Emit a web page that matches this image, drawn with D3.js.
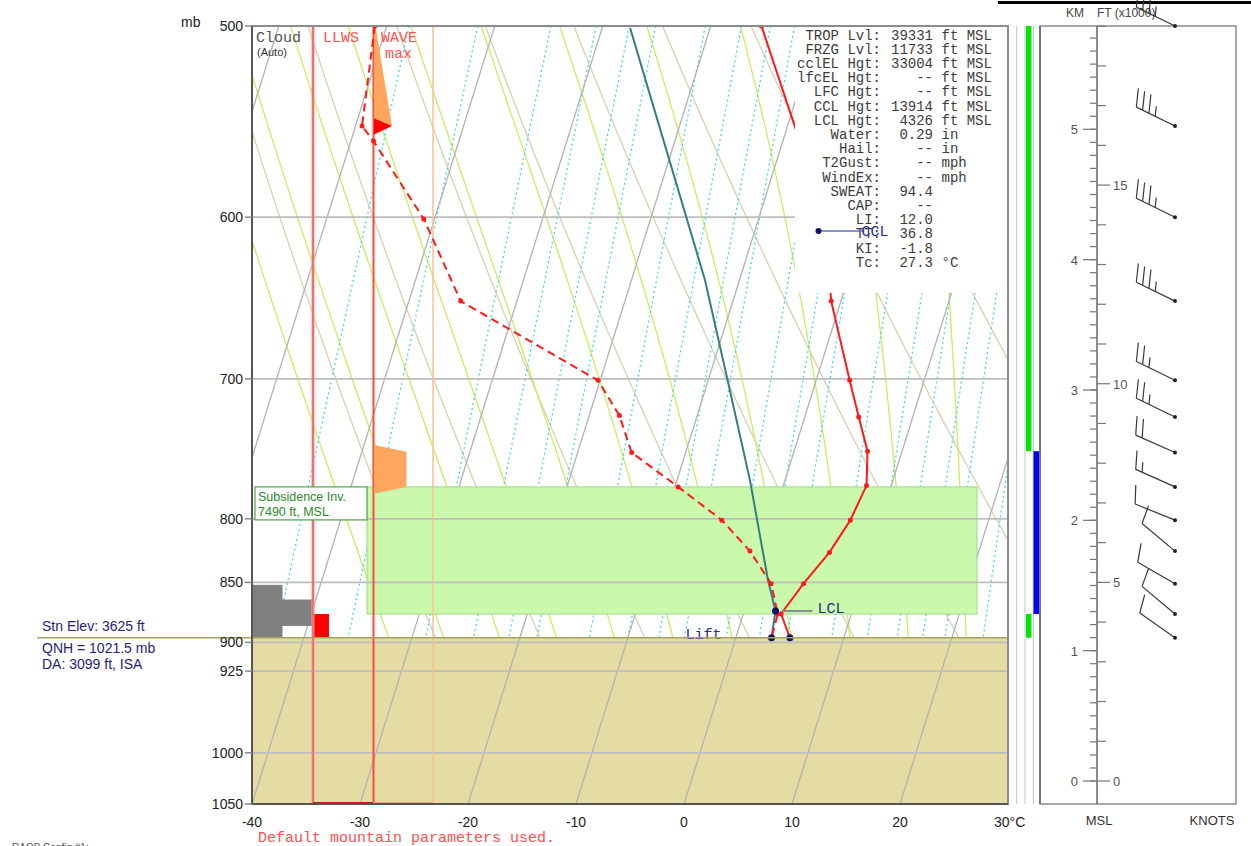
<!DOCTYPE html>
<html lang="en">
<head>
<meta charset="utf-8">
<style>
  body { margin: 0; background: #fff; }
  svg { display: block; }
  svg text { font-family: Arial, "Liberation Sans", sans-serif; }
  svg .mono, svg .mono text { font-family: "Courier New", "Liberation Mono", monospace; }
</style>
</head>
<body>
<script src="https://cdnjs.cloudflare.com/ajax/libs/d3/7.8.5/d3.min.js"></script>
<script>
var pressureTicks = [500, 600, 700, 800, 850, 900, 925, 1000, 1050];
var isobarLevels = [600, 700, 800, 850, 900, 925, 1000];
var tempTicks = [-40, -30, -20, -10, 0, 10, 20];
var isothermTemps = [-100, -90, -80, -70, -60, -50, -40, -30, -20, -10, 0, 10, 20, 30];
var dryThetas = [-20, -10, 0, 10, 20, 30, 40, 50, 60, 70];
var moistThetaW = [-25, -20, -15, -10, -5, 0, 5, 10, 15, 20, 25, 30, 35, 40];
var mixRatios = [0.1, 0.2, 0.4, 0.6, 0.8, 1, 1.5, 2, 2.5, 3, 4, 5, 6, 8, 10, 12, 14, 16, 20, 24, 28];

var stnP = 896;

var tempP = [500, 600, 650, 701, 726, 750, 775, 801, 826, 851, 876, 896];
var tempT = [-15.3, -3.9, -0.9, 3.1, 5.0, 6.8, 7.7, 7.2, 6.2, 4.7, 3.5, 5.0];

var dewP = [500, 550, 558, 601, 650, 701, 725, 751, 776, 801, 825, 851, 876, 896];
var dewT = [-51.1, -49.4, -47.9, -41.0, -35.2, -20.2, -17.2, -15.0, -9.7, -4.7, -1.2, 1.7, 3.2, 3.3];

var parcelP = [873.5, 848, 771, 701, 637, 501];
var parcelT = [2.9, 1.3, -3.25, -8.2, -13.2, -27.4];
var liftP = [896, 873.5];
var liftT = [3.3, 2.9];
var lcl = { p: 873.5, t: 2.9 };
var ccl = { p: 608, t: -4.1 };

var windP = [500, 550, 600, 650, 701, 726, 751, 776, 801, 825, 851, 876, 896];
var windDir = [296, 296, 296, 296, 296, 296, 294, 294, 292, 310, 300, 310, 305];
var windSpd = [35, 35, 35, 35, 25, 25, 20, 15, 10, 10, 10, 10, 10];

var cloudTop = [852, 864];
var cloudBot = [896, 886];
var cloudCover = [0.5, 1.0];

var llwsP = [876, 896];
var llwsAmt = 0.25;

var wave1P = [501, 501, 550, 546];
var wave1A = [0, 0.03, 0.3, 0];
var waveArrowP = [546, 550, 554.5];
var waveArrowA = [0, 0.3, 0];
var wave2P = [745.6, 750.4, 776, 781];
var wave2A = [0, 0.54, 0.54, 0];

var subsTop = 776, subsBot = 876;

var stabTop = [500, 750, 876];
var stabBot = [750, 876, 896];
var stabKind = ["stable", "inversion", "stable"];

var kmTicks = [0, 1, 2, 3, 4, 5];
var ftTicks = [0, 5, 10, 15];

var statLabels = ["TROP Lvl:", "FRZG Lvl:", "cclEL Hgt:", "lfcEL Hgt:", "LFC Hgt:", "CCL Hgt:", "LCL Hgt:",
  "Water:", "Hail:", "T2Gust:", "WindEx:", "SWEAT:", "CAP:", "LI:", "TT:", "KI:", "Tc:"];
var statValues = ["39331", "11733", "33004", "--", "--", "13914", "4326",
  "0.29", "--", "--", "--", "94.4", "--", "12.0", "36.8", "-1.8", "27.3"];
var statUnits = ["ft MSL", "ft MSL", "ft MSL", "ft MSL", "ft MSL", "ft MSL", "ft MSL",
  "in", "in", "mph", "mph", "", "", "", "", "", "\u00b0C"];

// ---- layout ----
var width = 1251, height = 846;
var plotL = 252, plotR = 1008, plotT = 26, plotB = 804;

var svg = d3.select("body").append("svg")
  .attr("width", width)
  .attr("height", height);

var yScale = d3.scaleLog().domain([500, 1050]).range([plotT, plotB]);
var xScale = d3.scaleLinear().domain([-40, 30]).range([plotL, plotR]);
var skew = 0.312;
function sx(t, p) { return xScale(t) + skew * (plotB - yScale(p)); }

var line = d3.line();
function skewPath(ps, ts) {
  return line(ps.map(function(p, i) { return [sx(ts[i], p), yScale(p)]; }));
}

var defs = svg.append("defs");
defs.append("clipPath").attr("id", "plotClip").append("rect")
  .attr("x", plotL).attr("y", plotT).attr("width", plotR - plotL).attr("height", plotB - plotT);
defs.append("clipPath").attr("id", "airClip").append("rect")
  .attr("x", plotL).attr("y", plotT).attr("width", plotR - plotL).attr("height", yScale(stnP) - plotT);

var pSamples = d3.range(500, 1051, 5);

// saturation vapour pressure, T in C
function es(t) { return 6.112 * Math.exp(17.67 * t / (t + 243.5)); }

function moistLapse(p, T) {
  var Rd = 287.04, Cp = 1005.7, Lv = 2.501e6, eps = 0.622;
  var e = es(T - 273.15);
  var rs = eps * e / (p - e);
  var num = (Rd * T + Lv * rs) / p;
  var den = Cp + (Lv * Lv * rs * eps) / (Rd * T * T);
  return num / den;
}
function moistStep(p, T, dp) {
  var k1 = moistLapse(p, T);
  var k2 = moistLapse(p + dp / 2, T + k1 * dp / 2);
  return T + k2 * dp;
}
function moistPoints(tw) {
  var up = [], down = [];
  var T = tw + 273.15, p = 1000;
  up.push([p, T]);
  while (p > 500) { T = moistStep(p, T, -5); p -= 5; up.push([p, T]); }
  T = tw + 273.15; p = 1000;
  while (p < 1050) { T = moistStep(p, T, 5); p += 5; down.push([p, T]); }
  return down.reverse().concat(up);
}

var plot = svg.append("g").attr("clip-path", "url(#plotClip)");
var air = plot.append("g").attr("clip-path", "url(#airClip)");

// dry adiabats
air.selectAll(".dry").data(dryThetas).enter().append("path")
  .attr("fill", "none").attr("stroke", "#d9d0ae").attr("stroke-width", 1.3)
  .attr("d", function(th) {
    return line(pSamples.map(function(p) {
      var t = (th + 273.15) * Math.pow(p / 1000, 0.2857) - 273.15;
      return [sx(t, p), yScale(p)];
    }));
  });

// moist adiabats
air.selectAll(".moist").data(moistThetaW).enter().append("path")
  .attr("fill", "none").attr("stroke", "#c6ee5e").attr("stroke-width", 1.3)
  .attr("d", function(tw) {
    return line(moistPoints(tw).map(function(d) { return [sx(d[1] - 273.15, d[0]), yScale(d[0])]; }));
  });

// mixing ratio lines
air.selectAll(".mix").data(mixRatios).enter().append("path")
  .attr("fill", "none").attr("stroke", "#3fd9e0").attr("stroke-width", 1.3)
  .attr("stroke-dasharray", "2,3")
  .attr("d", function(w) {
    return line(pSamples.map(function(p) {
      var e = w * p / (622 + w);
      var l = Math.log(e / 6.112);
      var td = 243.5 * l / (17.67 - l);
      return [sx(td, p), yScale(p)];
    }));
  });

// terrain below the station
plot.append("rect")
  .attr("x", plotL).attr("y", yScale(stnP))
  .attr("width", plotR - plotL).attr("height", plotB - yScale(stnP))
  .attr("fill", "#e4dca3");

// isotherms
plot.selectAll(".iso").data(isothermTemps).enter().append("line")
  .attr("x1", function(t) { return sx(t, 1050); }).attr("y1", yScale(1050))
  .attr("x2", function(t) { return sx(t, 500); }).attr("y2", yScale(500))
  .attr("stroke", "#b2b2b2").attr("stroke-width", 1.3);

// cloud column
var cloudX = d3.scaleLinear().domain([0, 1]).range([plotL, 313]);
plot.selectAll(".cloud").data(cloudTop).enter().append("rect")
  .attr("x", plotL)
  .attr("y", function(p) { return yScale(p); })
  .attr("width", function(p, i) { return cloudX(cloudCover[i]) - plotL; })
  .attr("height", function(p, i) { return yScale(cloudBot[i]) - yScale(p); })
  .attr("fill", "#808080");

// LLWS bar
var llwsX = d3.scaleLinear().domain([0, 1]).range([314, 374]);
plot.append("rect")
  .attr("x", llwsX(0)).attr("y", yScale(llwsP[0]))
  .attr("width", llwsX(llwsAmt) - llwsX(0))
  .attr("height", yScale(llwsP[1]) - yScale(llwsP[0]))
  .attr("fill", "#ff0000");

// subsidence inversion band
plot.append("rect")
  .attr("x", 367).attr("y", yScale(subsTop))
  .attr("width", 977 - 367).attr("height", yScale(subsBot) - yScale(subsTop))
  .attr("fill", "#cbf9ab").attr("stroke", "#9fd88e").attr("stroke-width", 1);

// isobars
plot.selectAll(".isobar").data(isobarLevels).enter().append("line")
  .attr("x1", plotL).attr("x2", plotR)
  .attr("y1", function(p) { return yScale(p); })
  .attr("y2", function(p) { return yScale(p); })
  .attr("stroke", "#bdbdbd").attr("stroke-width", 1.8);

// column boundaries
plot.append("line").attr("x1", 313).attr("x2", 313).attr("y1", plotT).attr("y2", plotB)
  .attr("stroke", "#f59a9a").attr("stroke-width", 3);
plot.append("line").attr("x1", 313).attr("x2", 313).attr("y1", plotT).attr("y2", plotB)
  .attr("stroke", "#f04a3a").attr("stroke-width", 1);
plot.append("line").attr("x1", 373.5).attr("x2", 373.5).attr("y1", plotT).attr("y2", plotB)
  .attr("stroke", "#ff4a3a").attr("stroke-width", 2);
plot.append("line").attr("x1", 433).attr("x2", 433).attr("y1", plotT).attr("y2", plotB)
  .attr("stroke", "#ffbf90").attr("stroke-width", 1.5);
plot.append("line").attr("x1", 313).attr("x2", 373).attr("y1", plotB - 1).attr("y2", plotB - 1)
  .attr("stroke", "#b02010").attr("stroke-width", 2);
plot.append("line").attr("x1", 373).attr("x2", 433).attr("y1", plotB - 1).attr("y2", plotB - 1)
  .attr("stroke", "#f0a070").attr("stroke-width", 2);

// mountain wave shapes
var waveX = d3.scaleLinear().domain([0, 1]).range([374, 434]);
function wavePoly(ps, as) {
  return line(ps.map(function(p, i) { return [waveX(as[i]), yScale(p)]; })) + "Z";
}
plot.append("path").attr("d", wavePoly(wave1P, wave1A)).attr("fill", "#ffa65e");
plot.append("path").attr("d", wavePoly(waveArrowP, waveArrowA)).attr("fill", "#ff0000");
plot.append("path").attr("d", wavePoly(wave2P, wave2A)).attr("fill", "#ffa65e");

// parcel path
plot.append("path").attr("d", skewPath(parcelP, parcelT))
  .attr("fill", "none").attr("stroke", "#357f80").attr("stroke-width", 2);
plot.append("path").attr("d", skewPath(liftP, liftT))
  .attr("fill", "none").attr("stroke", "#357f80").attr("stroke-width", 2);

// dewpoint
plot.append("path").attr("d", skewPath(dewP, dewT))
  .attr("fill", "none").attr("stroke", "#ff1a1a").attr("stroke-width", 2)
  .attr("stroke-dasharray", "8,5");
plot.selectAll(".dewdot").data(dewP.slice(0, 13)).enter().append("circle")
  .attr("cx", function(p, i) { return sx(dewT[i], p); })
  .attr("cy", function(p) { return yScale(p); })
  .attr("r", 2.5).attr("fill", "#ff1a1a");

// temperature
plot.append("path").attr("d", skewPath(tempP, tempT))
  .attr("fill", "none").attr("stroke", "#ff1a1a").attr("stroke-width", 2);
plot.selectAll(".tdot").data(tempP.slice(0, 11)).enter().append("circle")
  .attr("cx", function(p, i) { return sx(tempT[i], p); })
  .attr("cy", function(p) { return yScale(p); })
  .attr("r", 2.5).attr("fill", "#ff1a1a");

// index box over the upper right of the diagram
plot.append("rect").attr("x", 795).attr("y", plotT + 1).attr("width", plotR - 795).attr("height", 293 - plotT - 1)
  .attr("fill", "#fff");

var stats = svg.append("g").attr("font-size", 14).attr("fill", "#3c3c3c");
statLabels.forEach(function(s, i) {
  var y = 39.5 + i * 14.2;
  stats.append("text").attr("class", "mono").attr("x", 881).attr("y", y).attr("text-anchor", "end").text(s);
  stats.append("text").attr("class", "mono").attr("x", 933).attr("y", y).attr("text-anchor", "end").text(statValues[i]);
  if (statUnits[i]) stats.append("text").attr("class", "mono").attr("x", 941.5).attr("y", y).text(statUnits[i]);
});

// CCL marker
var cclX = sx(ccl.t, ccl.p), cclY = yScale(ccl.p);
svg.append("line").attr("x1", cclX).attr("x2", cclX + 45).attr("y1", cclY).attr("y2", cclY)
  .attr("stroke", "#6a6ac8").attr("stroke-width", 1.5);
svg.append("circle").attr("cx", cclX).attr("cy", cclY).attr("r", 3).attr("fill", "#10106e");
svg.append("text").attr("class", "mono").attr("x", cclX + 43).attr("y", cclY + 5)
  .attr("font-size", 15).attr("fill", "#2a2a9a").text("CCL");

// LCL and lift markers
var lclX = sx(lcl.t, lcl.p), lclY = yScale(lcl.p);
svg.append("line").attr("x1", lclX + 6).attr("x2", lclX + 37).attr("y1", lclY).attr("y2", lclY)
  .attr("stroke", "#8a8a8a").attr("stroke-width", 2);
svg.append("text").attr("class", "mono").attr("x", lclX + 42).attr("y", lclY + 2)
  .attr("font-size", 15).attr("fill", "#2a2a8a").text("LCL");
var liftX = sx(liftT[0], liftP[0]), liftY = yScale(liftP[0]);
svg.append("line").attr("x1", liftX - 38).attr("x2", liftX).attr("y1", liftY).attr("y2", liftY)
  .attr("stroke", "#5050c0").attr("stroke-width", 1.2);
svg.append("text").attr("class", "mono").attr("x", liftX - 86).attr("y", liftY + 1)
  .attr("font-size", 15).attr("fill", "#2a2a8a").text("Lift");
[[lcl.p, lcl.t], [liftP[0], liftT[0]], [stnP, tempT[tempT.length - 1]]].forEach(function(d) {
  svg.append("circle").attr("cx", sx(d[1], d[0])).attr("cy", yScale(d[0])).attr("r", 3.5).attr("fill", "#10106e");
});

// subsidence label
svg.append("rect").attr("x", 255).attr("y", yScale(subsTop)).attr("width", 112).attr("height", 33)
  .attr("fill", "#fff").attr("stroke", "#4ea34e").attr("stroke-width", 1.2);
svg.append("text").attr("x", 258).attr("y", yScale(subsTop) + 14).attr("font-size", 12.5)
  .attr("fill", "#2a8a2a").text("Subsidence Inv.");
svg.append("text").attr("x", 258).attr("y", yScale(subsTop) + 29).attr("font-size", 12.5)
  .attr("fill", "#2a8a2a").text("7490 ft, MSL");

// column headers
svg.append("text").attr("class", "mono").attr("x", 256).attr("y", 42).attr("font-size", 15).attr("fill", "#555").text("Cloud");
svg.append("text").attr("x", 257).attr("y", 56).attr("font-size", 11).attr("fill", "#333").text("(Auto)");
svg.append("text").attr("class", "mono").attr("x", 323).attr("y", 42).attr("font-size", 15).attr("fill", "#ff5050").text("LLWS");
svg.append("text").attr("class", "mono").attr("x", 381).attr("y", 42).attr("font-size", 15).attr("fill", "#ff5050").text("WAVE");
svg.append("text").attr("class", "mono").attr("x", 385).attr("y", 58).attr("font-size", 15).attr("fill", "#ff5050").text("max");

// station line and text
svg.append("line").attr("x1", 37).attr("x2", plotR).attr("y1", yScale(stnP)).attr("y2", yScale(stnP))
  .attr("stroke", "#aaa35c").attr("stroke-width", 1.5);
svg.append("text").attr("x", 42).attr("y", 631).attr("font-size", 14).attr("fill", "#1e1e7e").text("Stn Elev: 3625 ft");
svg.append("text").attr("x", 42).attr("y", 653).attr("font-size", 14).attr("fill", "#1e1e7e").text("QNH = 1021.5 mb");
svg.append("text").attr("x", 42).attr("y", 669).attr("font-size", 14).attr("fill", "#1e1e7e").text("DA: 3099 ft, ISA");

// frame
svg.append("rect").attr("x", plotL).attr("y", plotT).attr("width", plotR - plotL).attr("height", plotB - plotT)
  .attr("fill", "none").attr("stroke", "#8c8c8c").attr("stroke-width", 2);
svg.append("line").attr("x1", plotL).attr("x2", plotL).attr("y1", plotT).attr("y2", plotB)
  .attr("stroke", "#555").attr("stroke-width", 2);
svg.append("line").attr("x1", plotL).attr("x2", plotR).attr("y1", plotB).attr("y2", plotB)
  .attr("stroke", "#555").attr("stroke-width", 2);

// pressure axis
var pAxis = svg.append("g");
pAxis.selectAll("line").data(pressureTicks).enter().append("line")
  .attr("x1", 245).attr("x2", plotL)
  .attr("y1", function(p) { return yScale(p); }).attr("y2", function(p) { return yScale(p); })
  .attr("stroke", "#888").attr("stroke-width", 1.5);
pAxis.selectAll("text").data(pressureTicks).enter().append("text")
  .attr("x", 243).attr("y", function(p) { return yScale(p) + 5; })
  .attr("text-anchor", "end").attr("font-size", 14).attr("fill", "#222")
  .text(function(p) { return p; });
svg.append("text").attr("x", 181).attr("y", 27).attr("font-size", 14).attr("fill", "#222").text("mb");

// temperature axis
var tAxis = svg.append("g");
tAxis.selectAll("text").data(tempTicks).enter().append("text")
  .attr("x", function(t) { return xScale(t); }).attr("y", 827)
  .attr("text-anchor", "middle").attr("font-size", 14).attr("fill", "#222")
  .text(function(t) { return t; });
svg.append("text").attr("x", xScale(30) - 14).attr("y", 827).attr("font-size", 14).attr("fill", "#222").text("30\u00b0C");

svg.append("text").attr("class", "mono").attr("x", 258).attr("y", 842).attr("font-size", 15)
  .attr("fill", "#ff4d4d").text("Default mountain parameters used.");
svg.append("text").attr("x", 12).attr("y", 851).attr("font-size", 10).attr("fill", "#555").text("RAOB Config #1:");

// stability columns
var stabColor = { stable: "#00e600", inversion: "#0000ff" };
var stabX = { stable: 1026, inversion: 1033.5 };
[1016.7, 1025, 1033.3].forEach(function(x) {
  svg.append("line").attr("x1", x).attr("x2", x).attr("y1", plotT).attr("y2", plotB)
    .attr("stroke", "#c4c4c4").attr("stroke-width", 1);
});
svg.selectAll(".stab").data(stabTop).enter().append("rect")
  .attr("x", function(p, i) { return stabX[stabKind[i]]; })
  .attr("y", function(p) { return yScale(p); })
  .attr("width", 5.5)
  .attr("height", function(p, i) { return yScale(stabBot[i]) - yScale(p); })
  .attr("fill", function(p, i) { return stabColor[stabKind[i]]; });

// height panel
var hx = 1097;
svg.append("rect").attr("x", 1040).attr("y", plotT).attr("width", 1236 - 1040).attr("height", plotB - plotT)
  .attr("fill", "none").attr("stroke", "#8c8c8c").attr("stroke-width", 1.5);
svg.append("line").attr("x1", 1040).attr("x2", 1040).attr("y1", plotT).attr("y2", plotB)
  .attr("stroke", "#666").attr("stroke-width", 1.5);
svg.append("line").attr("x1", hx).attr("x2", hx).attr("y1", plotT).attr("y2", plotB)
  .attr("stroke", "#666").attr("stroke-width", 1.5);
svg.append("line").attr("x1", 998).attr("x2", width).attr("y1", 2.5).attr("y2", 2.5)
  .attr("stroke", "#000").attr("stroke-width", 3);

var kmY = d3.scaleLinear().domain([0, 5]).range([781, 129.3]);
var kmMinor = d3.range(0, 58).map(function(i) { return i / 10; }).filter(function(k) { return kmY(k) > plotT + 4; });
svg.selectAll(".kmminor").data(kmMinor).enter().append("line")
  .attr("x1", hx - 7).attr("x2", hx)
  .attr("y1", function(k) { return kmY(k); }).attr("y2", function(k) { return kmY(k); })
  .attr("stroke", "#777").attr("stroke-width", 1.2);
svg.selectAll(".kmmajor").data(kmTicks).enter().append("line")
  .attr("x1", hx - 14).attr("x2", hx)
  .attr("y1", function(k) { return kmY(k); }).attr("y2", function(k) { return kmY(k); })
  .attr("stroke", "#777").attr("stroke-width", 1.2);
svg.selectAll(".kmlab").data(kmTicks).enter().append("text")
  .attr("x", hx - 19).attr("y", function(k) { return kmY(k) + 5; })
  .attr("text-anchor", "end").attr("font-size", 13).attr("fill", "#555")
  .text(function(k) { return k; });

var ftMinor = d3.range(0, 20);
svg.selectAll(".ftminor").data(ftMinor).enter().append("line")
  .attr("x1", hx).attr("x2", function(f) { return f % 5 === 0 ? hx + 13 : hx + 9; })
  .attr("y1", function(f) { return kmY(f * 0.3048); }).attr("y2", function(f) { return kmY(f * 0.3048); })
  .attr("stroke", "#777").attr("stroke-width", 1.2);
svg.selectAll(".ftlab").data(ftTicks).enter().append("text")
  .attr("x", hx + 16).attr("y", function(f) { return kmY(f * 0.3048) + 5; })
  .attr("font-size", 13).attr("fill", "#555")
  .text(function(f) { return f; });

svg.append("text").attr("x", 1066).attr("y", 17).attr("font-size", 12).attr("fill", "#444").text("KM");
svg.append("text").attr("x", 1097).attr("y", 17).attr("font-size", 12).attr("fill", "#444").text("FT (x1000)");
svg.append("text").attr("x", 1099).attr("y", 825).attr("text-anchor", "middle").attr("font-size", 13).attr("fill", "#333").text("MSL");
svg.append("text").attr("x", 1212).attr("y", 825).attr("text-anchor", "middle").attr("font-size", 13).attr("fill", "#333").text("KNOTS");

// wind barbs
var barbX = 1175;
var barbs = svg.append("g").attr("stroke", "#3a3a3a").attr("stroke-width", 1.2).attr("fill", "none");
windP.forEach(function(p, i) {
  var y = yScale(p);
  var rad = windDir[i] * Math.PI / 180;
  var ux = Math.sin(rad), uy = -Math.cos(rad);
  var L = 43;
  var tx = barbX + L * ux, ty = y + L * uy;
  barbs.append("line").attr("x1", barbX).attr("y1", y).attr("x2", tx).attr("y2", ty);
  var a = 70 * Math.PI / 180;
  var fx = ux * Math.cos(a) - uy * Math.sin(a);
  var fy = ux * Math.sin(a) + uy * Math.cos(a);
  var full = Math.floor(windSpd[i] / 10);
  var half = (windSpd[i] % 10) >= 5;
  var pos = 0, gap = 7;
  for (var k = 0; k < full; k++) {
    var bx = tx - ux * pos, by = ty - uy * pos;
    barbs.append("line").attr("x1", bx).attr("y1", by).attr("x2", bx + fx * 19).attr("y2", by + fy * 19);
    pos += gap;
  }
  if (half) {
    if (full === 0) pos = gap;
    var hxp = tx - ux * pos, hyp = ty - uy * pos;
    barbs.append("line").attr("x1", hxp).attr("y1", hyp).attr("x2", hxp + fx * 10).attr("y2", hyp + fy * 10);
  }
  svg.append("circle").attr("cx", barbX).attr("cy", y).attr("r", 2).attr("fill", "#222");
});
</script>
</body>
</html>
